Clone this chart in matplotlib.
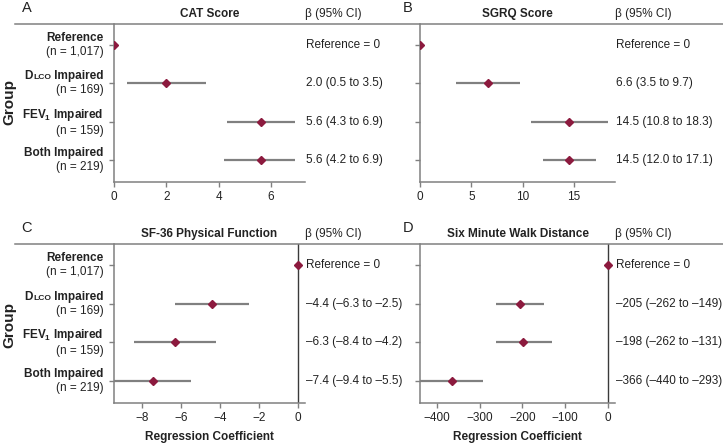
'''
Forest plots of regression coefficients by impairment group (4 outcomes)
'''
import matplotlib
matplotlib.use('Agg')
import matplotlib.pyplot as plt
from matplotlib.lines import Line2D
from matplotlib.offsetbox import TextArea, HPacker, VPacker, AnnotationBbox

plt.rcParams['font.family'] = ['Liberation Sans', 'DejaVu Sans']
plt.rcParams['mathtext.fontset'] = 'custom'
plt.rcParams['mathtext.rm'] = 'Liberation Sans'
plt.rcParams['mathtext.bf'] = 'Liberation Sans:bold'

# data
group_n = ['(n = 1,017)', '(n = 169)', '(n = 159)', '(n = 219)']

cat_est = [0, 2.0, 5.6, 5.6]
cat_lo = [0, 0.5, 4.3, 4.2]
cat_hi = [0, 3.5, 6.9, 6.9]
cat_txt = ['Reference = 0', '2.0 (0.5 to 3.5)', '5.6 (4.3 to 6.9)', '5.6 (4.2 to 6.9)']

sgrq_est = [0, 6.6, 14.5, 14.5]
sgrq_lo = [0, 3.5, 10.8, 12.0]
sgrq_hi = [0, 9.7, 18.3, 17.1]
sgrq_txt = ['Reference = 0', '6.6 (3.5 to 9.7)', '14.5 (10.8 to 18.3)', '14.5 (12.0 to 17.1)']

sf36_est = [0, -4.4, -6.3, -7.4]
sf36_lo = [0, -6.3, -8.4, -9.4]
sf36_hi = [0, -2.5, -4.2, -5.5]
sf36_txt = ['Reference = 0', '\u20134.4 (\u20136.3 to \u20132.5)',
            '\u20136.3 (\u20138.4 to \u20134.2)', '\u20137.4 (\u20139.4 to \u20135.5)']

smwd_est = [0, -205, -198, -366]
smwd_lo = [0, -262, -262, -440]
smwd_hi = [0, -149, -131, -293]
smwd_txt = ['Reference = 0', '\u2013205 (\u2013262 to \u2013149)',
            '\u2013198 (\u2013262 to \u2013131)', '\u2013366 (\u2013440 to \u2013293)']

W, H = 723, 444
FS = 8.5
GRAY = '#808080'
MARK = '#8c1a3e'
TXT = '#222222'


def px_ax(left, right, top, bottom):
    return [left / W, 1 - bottom / H, (right - left) / W, (bottom - top) / H]


def group_label(i):
    bold = dict(fontsize=FS, fontweight='bold', color=TXT)
    if i == 0:
        parts = [TextArea('Reference', textprops=bold)]
    elif i == 1:
        parts = [TextArea('D', textprops=bold),
                 TextArea('LCO', textprops=dict(fontsize=FS * 0.72, fontweight='bold', color=TXT)),
                 TextArea(' Impaired', textprops=bold)]
    elif i == 2:
        parts = [TextArea(r'FEV$_{\mathbf{1}}$ Impaired', textprops=bold)]
    else:
        parts = [TextArea('Both Impaired', textprops=bold)]
    line1 = HPacker(children=parts, align='baseline', pad=0, sep=0)
    line2 = TextArea(group_n[i], textprops=dict(fontsize=FS, color=TXT))
    return VPacker(children=[line1, line2], align='right', pad=0, sep=1.5)


def forest(ax, est, lo, hi, txt, title, xlim, xticks, zero_line, xlabel, labels):
    rows = list(range(len(est)))
    err = [[e - l for e, l in zip(est, lo)], [h - e for e, h in zip(est, hi)]]
    ax.errorbar(est[1:], rows[1:], xerr=[err[0][1:], err[1][1:]], fmt='D',
                color=MARK, ms=4.5, ecolor=GRAY, elinewidth=1.6, capsize=0, zorder=3)
    ax.plot(est[0], rows[0], 'D', color=MARK, ms=4.0, zorder=3)
    if zero_line:
        ax.axvline(0, color='#3a3a3a', lw=1.0, zorder=2)
    ax.set_xlim(xlim)
    ax.set_ylim(3.57, -0.55)
    ax.set_xticks(xticks)
    ax.set_yticks(rows)
    ax.set_yticklabels([])
    for s in ['top', 'right']:
        ax.spines[s].set_visible(False)
    for s in ['left', 'bottom']:
        ax.spines[s].set_color(GRAY)
        ax.spines[s].set_linewidth(1.1)
    ax.tick_params(colors=GRAY, labelcolor=TXT, labelsize=FS, length=3.5, width=1, pad=3)
    for i in rows:
        if labels:
            ab = AnnotationBbox(group_label(i), (0, i), xycoords=('axes fraction', 'data'),
                                xybox=(-7.5, 0), boxcoords='offset points',
                                box_alignment=(1, 0.5), frameon=False, pad=0)
            ax.add_artist(ab)
        ax.annotate(txt[i], (1, i), xycoords=('axes fraction', 'data'),
                    xytext=(1, 0), textcoords='offset points', ha='left', va='center',
                    fontsize=FS, color=TXT)
    ax.annotate(title, (0.5, 1), xycoords='axes fraction', xytext=(0, 7.5),
                textcoords='offset points', ha='center', va='center',
                fontsize=FS, fontweight='bold', color=TXT)
    ax.annotate('\u03b2 (95% CI)', (1, 1), xycoords='axes fraction', xytext=(0, 7.5),
                textcoords='offset points', ha='left', va='center', fontsize=FS, color=TXT)
    if xlabel:
        ax.set_xlabel('Regression Coefficient', fontsize=FS, fontweight='bold',
                      color=TXT, labelpad=5)


fig = plt.figure(figsize=(W / 100, H / 100), dpi=100)
ax_a = fig.add_axes(px_ax(114, 305, 24, 182))
ax_b = fig.add_axes(px_ax(420, 615, 24, 182))
ax_c = fig.add_axes(px_ax(114, 305, 244, 403))
ax_d = fig.add_axes(px_ax(420, 615, 244, 403))

forest(ax_a, cat_est, cat_lo, cat_hi, cat_txt, 'CAT Score', (0, 7.3), [0, 2, 4, 6],
       False, False, True)
forest(ax_b, sgrq_est, sgrq_lo, sgrq_hi, sgrq_txt, 'SGRQ Score', (0, 19.0), [0, 5, 10, 15],
       False, False, False)
forest(ax_c, sf36_est, sf36_lo, sf36_hi, sf36_txt, 'SF-36 Physical Function', (-9.42, 0.35),
       [-8, -6, -4, -2, 0], True, True, True)
forest(ax_d, smwd_est, smwd_lo, smwd_hi, smwd_txt, 'Six Minute Walk Distance', (-440, 17),
       [-400, -300, -200, -100, 0], True, True, False)

# header rules across each row of panels
for y in [24, 244]:
    fig.add_artist(Line2D([15 / W, 1], [1 - y / H, 1 - y / H], transform=fig.transFigure,
                          color=GRAY, lw=1.1))

for letter, x, y in [('A', 27, 8), ('B', 408, 8), ('C', 27, 228), ('D', 408, 228)]:
    fig.text(x / W, 1 - y / H, letter, fontsize=10.5, ha='center', va='center', color=TXT)
for y in [102, 325]:
    fig.text(9 / W, 1 - y / H, 'Group', rotation=90, fontsize=11, fontweight='bold',
             ha='center', va='center', color=TXT)

fig.savefig('out.png', dpi=100)
